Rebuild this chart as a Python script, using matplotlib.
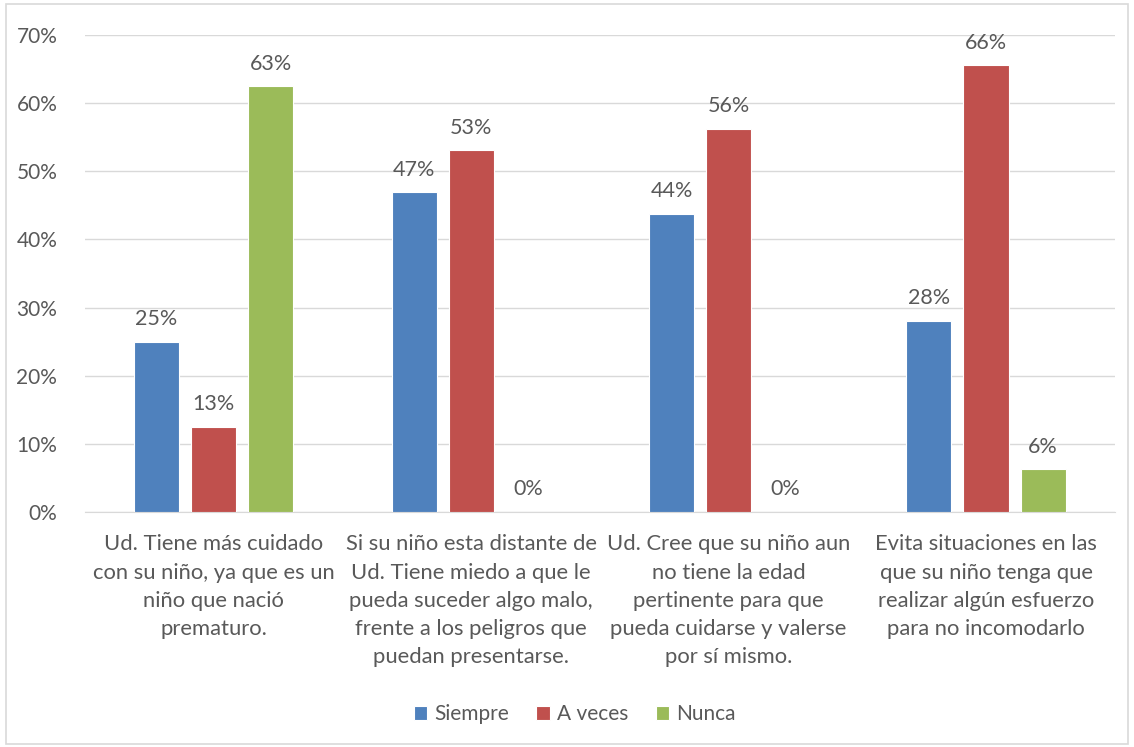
import math
import matplotlib
matplotlib.use("Agg")
import matplotlib.pyplot as plt
from matplotlib.patches import Rectangle
import numpy as np

categories = [
    "Ud. Tiene más cuidado\ncon su niño, ya que es un\nniño que nació\nprematuro.",
    "Si su niño esta distante de\nUd. Tiene miedo a que le\npueda suceder algo malo,\nfrente a los peligros que\npuedan presentarse.",
    "Ud. Cree que su niño aun\nno tiene la edad\npertinente para que\npueda cuidarse y valerse\npor sí mismo.",
    "Evita situaciones en las\nque su niño tenga que\nrealizar algún esfuerzo\npara no incomodarlo",
]
series_names = ["Siempre", "A veces", "Nunca"]
siempre = [25.0, 46.9, 43.75, 28.1]
a_veces = [12.5, 53.1, 56.25, 65.6]
nunca = [62.5, 0.0, 0.0, 6.25]
colors = ["#4F81BD", "#C0504D", "#9BBB59"]

plt.rcParams["font.family"] = ["Lato", "DejaVu Sans"]
txt = "#595959"

fig = plt.figure(figsize=(11.34, 7.47), dpi=100)
ax = fig.add_axes([0.075, 0.3146, 0.908, 0.6385])

x = np.arange(len(categories))
w = 0.175
step = 0.222
for i, (name, vals) in enumerate(zip(series_names, [siempre, a_veces, nunca])):
    pos = x + (i - 1) * step
    ax.bar(pos, vals, width=w, color=colors[i], edgecolor="white", linewidth=0.8,
           label=name, zorder=3)
    for px, v in zip(pos, vals):
        ax.annotate("{}%".format(math.floor(v + 0.5)), (px, v), xytext=(0, 9),
                    textcoords="offset points", ha="center", va="bottom",
                    fontsize=15.5, color=txt)

ax.set_xlim(-0.5, len(categories) - 0.5)
ax.set_ylim(0, 70)
ax.set_yticks(range(0, 71, 10))
ax.set_yticklabels(["{}%".format(v) for v in range(0, 71, 10)])
ax.set_xticks(x)
ax.set_xticklabels(categories, linespacing=1.52)
ax.tick_params(axis="both", length=0, colors=txt)
ax.tick_params(axis="x", pad=16, labelsize=15.8)
ax.tick_params(axis="y", pad=20, labelsize=15)
ax.grid(axis="y", color="#D9D9D9", linewidth=1, zorder=0)
for s in ["top", "right", "left"]:
    ax.spines[s].set_visible(False)
ax.spines["bottom"].set_color("#D9D9D9")

leg = fig.legend(loc="center", bbox_to_anchor=(0.507, 0.044), ncol=3, frameon=False,
                 fontsize=15, handlelength=0.65, handleheight=0.65, columnspacing=1.3,
                 handletextpad=0.35)
for t in leg.get_texts():
    t.set_color(txt)

fig.patches.append(Rectangle((0.005, 0.004), 0.99, 0.99, transform=fig.transFigure,
                             fill=False, edgecolor="#D9D9D9", linewidth=1.2))

fig.savefig("out.png", dpi=100)
